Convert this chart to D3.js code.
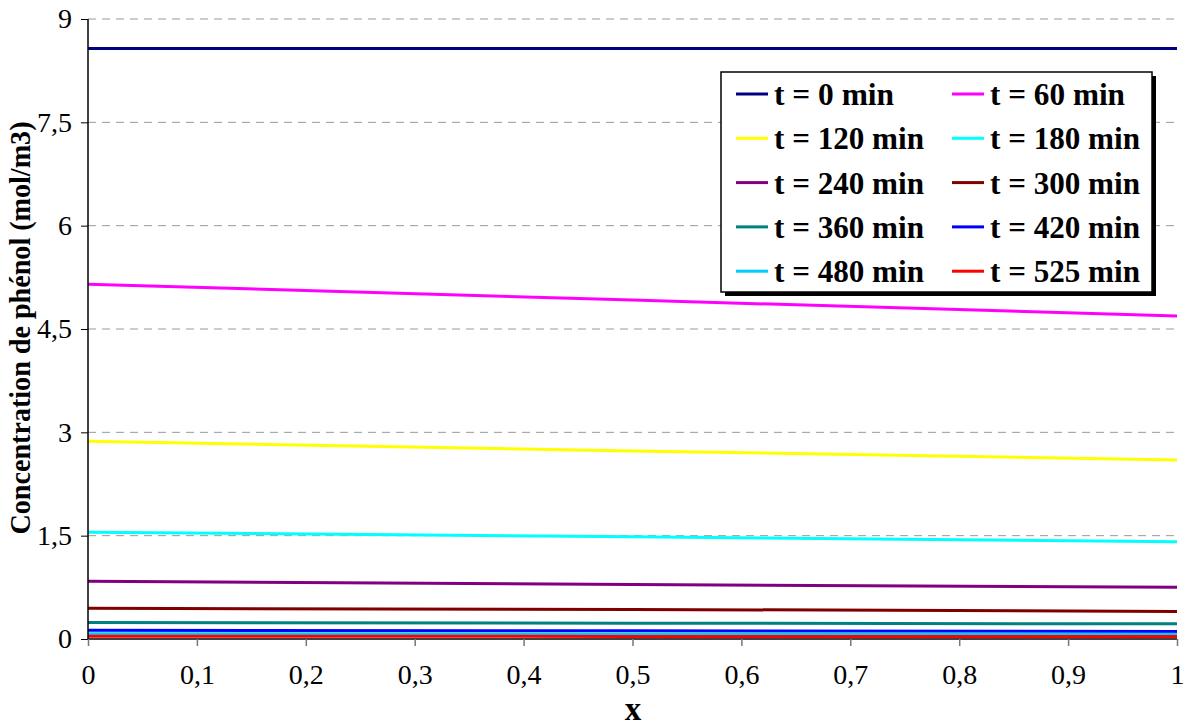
<!DOCTYPE html>
<html><head><meta charset="utf-8">
<script src="https://cdn.jsdelivr.net/npm/d3@7"></script>
<style>
body{margin:0;background:#fff;}
text{font-family:"Liberation Serif","Times New Roman",serif;}
</style></head>
<body><svg id="c" width="1190" height="726"></svg>
<script>
const xValues = [0, 0.5, 1];
const seriesNames = ["t = 0 min","t = 60 min","t = 120 min","t = 180 min","t = 240 min","t = 300 min","t = 360 min","t = 420 min","t = 480 min","t = 525 min"];
const seriesColors = ["#000080","#FF00FF","#FFFF00","#00FFFF","#800080","#800000","#008080","#0000FF","#00CCFF","#FF0000"];
const t0 = [8.57, 8.57, 8.57];
const t60 = [5.15, 4.92, 4.69];
const t120 = [2.87, 2.73, 2.60];
const t180 = [1.55, 1.485, 1.41];
const t240 = [0.84, 0.79, 0.75];
const t300 = [0.445, 0.43, 0.40];
const t360 = [0.24, 0.23, 0.22];
const t420 = [0.126, 0.12, 0.11];
const t480 = [0.077, 0.073, 0.07];
const t525 = [0.04, 0.038, 0.035];
const seriesValues = [t0,t60,t120,t180,t240,t300,t360,t420,t480,t525];
const xTicks = [0,0.1,0.2,0.3,0.4,0.5,0.6,0.7,0.8,0.9,1];
const yTicks = [0,1.5,3,4.5,6,7.5,9];

const svg = d3.select("#c");
const L=88, R=1177, T=19, B=639;
const x = d3.scaleLinear().domain([0,1]).range([L,R]);
const y = d3.scaleLinear().domain([0,9]).range([B,T]);
const fmt = d => String(d).replace(".", ",");

// grid
svg.append("g").selectAll("line").data(yTicks.filter(d=>d>0)).join("line")
  .attr("x1",L).attr("x2",R+1).attr("y1",d=>y(d)).attr("y2",d=>y(d))
  .attr("stroke","#999").attr("stroke-width",1).attr("stroke-dasharray","8,6");

// series
const line = d3.line().x((d,i)=>x(xValues[i])).y(d=>y(d));
svg.append("g").selectAll("path").data(seriesValues).join("path")
  .attr("d",line).attr("fill","none")
  .attr("stroke",(d,i)=>seriesColors[i]).attr("stroke-width",3);

// axes
const yAxis = d3.axisLeft(y).tickValues(yTicks).tickFormat(fmt).tickSize(7).tickPadding(9);
const gy = svg.append("g").attr("transform",`translate(${L},0)`).call(yAxis);
const xAxis = d3.axisBottom(x).tickValues(xTicks).tickFormat(fmt).tickSize(7).tickPadding(18);
const gx = svg.append("g").attr("transform",`translate(0,${B})`).call(xAxis);
[gy,gx].forEach(g=>{
  g.attr("font-size",null).attr("font-family",null);
  g.select(".domain").attr("stroke","#000").attr("stroke-width",1.5);
  g.selectAll(".tick text").attr("fill","#000")
   .style("font-size","28px")
   .style("font-family",'"Liberation Serif","Times New Roman",serif');
});
gy.selectAll(".tick line").attr("stroke","#000");
gx.selectAll(".tick line").attr("stroke","#777").attr("stroke-width",1.5);
gy.select(".domain").attr("d",`M-0,${B}V${T}`);
gx.select(".domain").attr("d",`M${L},0H${R}`);

// axis titles
svg.append("text").attr("x",633).attr("y",720).attr("text-anchor","middle")
  .style("font-size","33px").attr("font-weight","bold").text("x");
svg.append("text").attr("transform",`translate(30,328) rotate(-90)`)
  .attr("text-anchor","middle").style("font-size","29px").attr("font-weight","bold")
  .attr("textLength",413).attr("lengthAdjust","spacingAndGlyphs")
  .text("Concentration de phénol (mol/m3)");

// legend
const lg = svg.append("g");
const lx=721, ly=72, lw=431, lh=220;
lg.append("rect").attr("x",lx+4).attr("y",ly+4).attr("width",lw).attr("height",lh).attr("fill","#000");
lg.append("rect").attr("x",lx).attr("y",ly).attr("width",lw).attr("height",lh).attr("fill","#fff").attr("stroke","#000").attr("stroke-width",1.5);
seriesNames.forEach((n,i)=>{
  const col=i%2, row=Math.floor(i/2);
  const cx = col===0?736:952, cy = 94+row*44.3;
  lg.append("line").attr("x1",cx).attr("x2",cx+32).attr("y1",cy).attr("y2",cy)
    .attr("stroke",seriesColors[i]).attr("stroke-width",3);
  const digits = n.replace(/\D/g,"").length;
  lg.append("text").attr("x",cx+38).attr("y",cy+11).style("font-size","31px").attr("font-weight","bold")
    .attr("textLength",105+15*digits).attr("lengthAdjust","spacingAndGlyphs").text(n);
});
</script></body></html>
